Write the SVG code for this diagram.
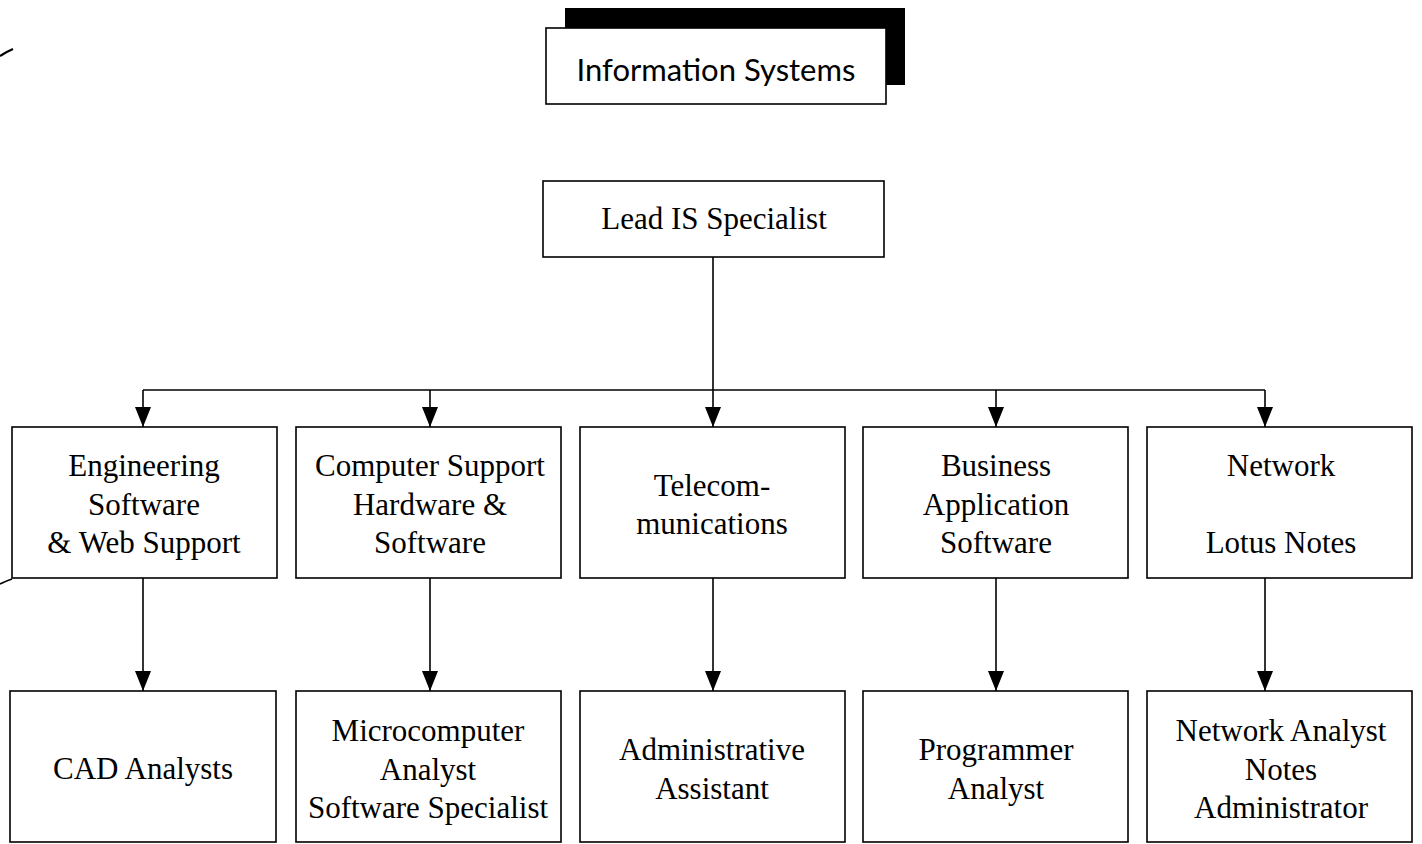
<svg xmlns="http://www.w3.org/2000/svg" width="1422" height="844" viewBox="0 0 1422 844">
<style>
.box{fill:#fff;stroke:#000;stroke-width:1.6}
.t{font-family:"Liberation Serif","Times New Roman",serif;font-size:31px;fill:#000;text-anchor:middle}
.title{font-family:Lato,"Open Sans",sans-serif;font-size:31px;fill:#000;text-anchor:middle}
.c{fill:none;stroke:#000;stroke-width:1.6}
</style>
<defs>
<marker id="ah" markerWidth="20" markerHeight="16" refX="20" refY="8" orient="auto" markerUnits="userSpaceOnUse" viewBox="0 0 20 16">
<path d="M0,0 L20,8 L0,16 Z" fill="#000"/>
</marker>
</defs>
<rect width="1422" height="844" fill="#fff"/>
<path d="M0,56 Q6,52 13,49" fill="none" stroke="#000" stroke-width="2.2"/>
<path d="M0,584 Q6,581 12,579" fill="none" stroke="#000" stroke-width="1.6"/>

<g id="title">
<rect x="565" y="8" width="340" height="77" fill="#000"/>
<rect class="box" x="546" y="28" width="340" height="76"/>
<text class="title" x="716" y="81">Information Systems</text>
</g>

<g id="lead">
<rect class="box" x="543" y="181" width="341" height="76"/>
<text class="t" x="714" y="229">Lead IS Specialist</text>
</g>

<g id="connectors">
<line class="c" x1="713" y1="257" x2="713" y2="390"/>
<line class="c" x1="143" y1="390" x2="1265" y2="390"/>
<path class="c" d="M143,390 V427" marker-end="url(#ah)"/>
<path class="c" d="M430,390 V427" marker-end="url(#ah)"/>
<path class="c" d="M713,390 V427" marker-end="url(#ah)"/>
<path class="c" d="M996,390 V427" marker-end="url(#ah)"/>
<path class="c" d="M1265,390 V427" marker-end="url(#ah)"/>
<path class="c" d="M143,578 V691" marker-end="url(#ah)"/>
<path class="c" d="M430,578 V691" marker-end="url(#ah)"/>
<path class="c" d="M713,578 V691" marker-end="url(#ah)"/>
<path class="c" d="M996,578 V691" marker-end="url(#ah)"/>
<path class="c" d="M1265,578 V691" marker-end="url(#ah)"/>
</g>

<g id="eng">
<rect class="box" x="12" y="427" width="265" height="151"/>
<text class="t" x="144" y="476">Engineering</text>
<text class="t" x="144" y="515">Software</text>
<text class="t" x="144" y="553">&amp; Web Support</text>
</g>
<g id="compsupport">
<rect class="box" x="296" y="427" width="265" height="151"/>
<text class="t" x="430" y="476">Computer Support</text>
<text class="t" x="430" y="515">Hardware &amp;</text>
<text class="t" x="430" y="553">Software</text>
</g>
<g id="telecom">
<rect class="box" x="580" y="427" width="265" height="151"/>
<text class="t" x="712" y="496">Telecom-</text>
<text class="t" x="712" y="534">munications</text>
</g>
<g id="business">
<rect class="box" x="863" y="427" width="265" height="151"/>
<text class="t" x="996" y="476">Business</text>
<text class="t" x="996" y="515">Application</text>
<text class="t" x="996" y="553">Software</text>
</g>
<g id="network">
<rect class="box" x="1147" y="427" width="265" height="151"/>
<text class="t" x="1281" y="476">Network</text>
<text class="t" x="1281" y="553">Lotus Notes</text>
</g>

<g id="cad">
<rect class="box" x="10" y="691" width="266" height="151"/>
<text class="t" x="143" y="779">CAD Analysts</text>
</g>
<g id="micro">
<rect class="box" x="296" y="691" width="265" height="151"/>
<text class="t" x="428" y="741">Microcomputer</text>
<text class="t" x="428" y="780">Analyst</text>
<text class="t" x="428" y="818">Software Specialist</text>
</g>
<g id="admin">
<rect class="box" x="580" y="691" width="265" height="151"/>
<text class="t" x="712" y="760">Administrative</text>
<text class="t" x="712" y="799">Assistant</text>
</g>
<g id="programmer">
<rect class="box" x="863" y="691" width="265" height="151"/>
<text class="t" x="996" y="760">Programmer</text>
<text class="t" x="996" y="799">Analyst</text>
</g>
<g id="netanalyst">
<rect class="box" x="1147" y="691" width="265" height="151"/>
<text class="t" x="1281" y="741">Network Analyst</text>
<text class="t" x="1281" y="780">Notes</text>
<text class="t" x="1281" y="818">Administrator</text>
</g>
</svg>
